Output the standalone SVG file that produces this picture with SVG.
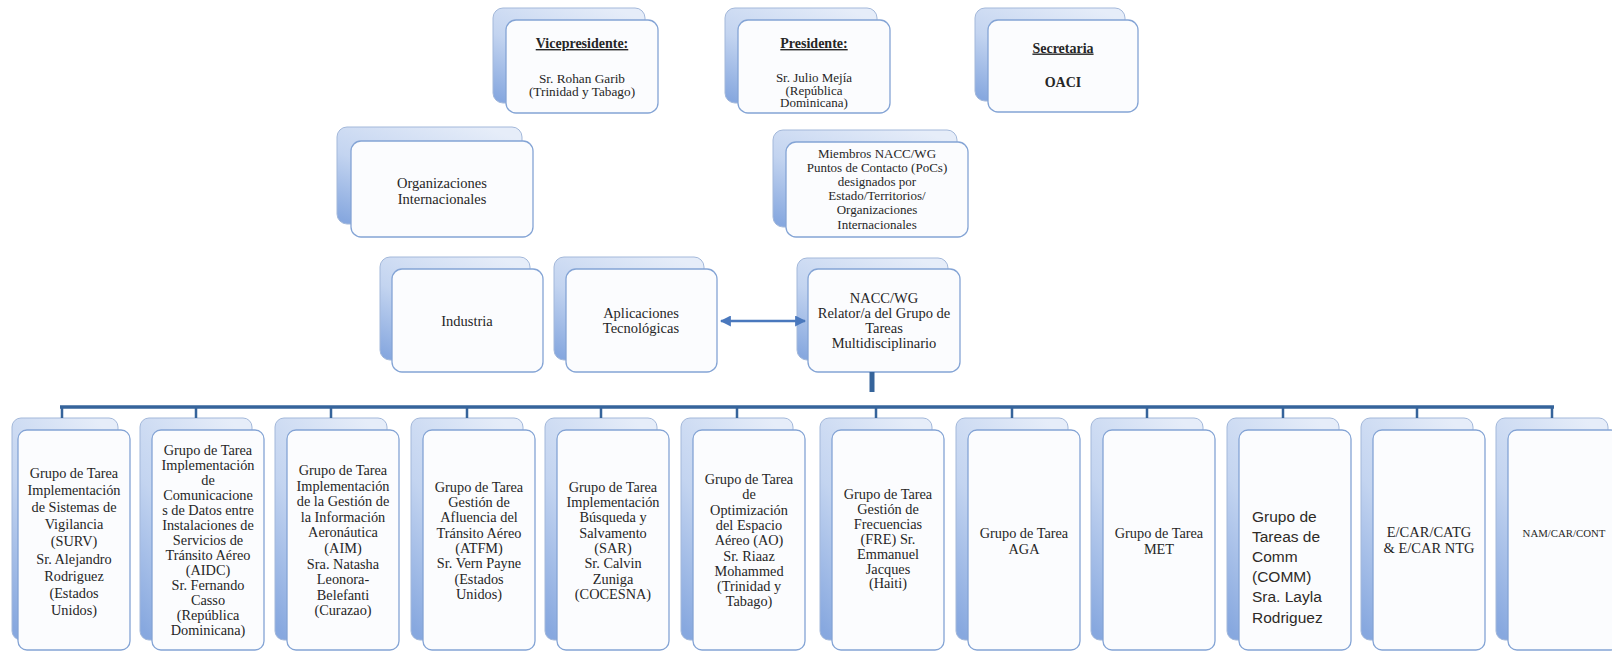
<svg xmlns="http://www.w3.org/2000/svg" width="1612" height="651" viewBox="0 0 1612 651">
<defs>
<linearGradient id="gb" x1="0.8" y1="0" x2="0.1" y2="1">
<stop offset="0" stop-color="#e6edf9"/>
<stop offset="0.55" stop-color="#c3d4f0"/>
<stop offset="1" stop-color="#87a8df"/>
</linearGradient>
<marker id="ah" viewBox="0 0 10 10" refX="9" refY="5" markerWidth="4.4" markerHeight="4.4" orient="auto-start-reverse" markerUnits="strokeWidth">
<path d="M0,0 L10,5 L0,10 z" fill="#4a78bd"/>
</marker>
<style>
.back{fill:url(#gb);stroke:#a3b8da;stroke-width:1}
.front{fill:#fbfcfe;stroke:#84a4d5;stroke-width:1.3}
.t{font-family:"Liberation Serif","Times New Roman",serif;fill:#262626;text-anchor:middle}
.s{font-size:14.3px}
.h{font-weight:bold;text-decoration:underline}
.bus{stroke:#36649b;stroke-width:3.5;fill:none}
.drop{stroke:#36649b;stroke-width:2.5;fill:none}
</style>
</defs>
<rect width="1612" height="651" fill="#ffffff"/>

<g id="vicepresidente">
<rect class="back" x="493" y="8" width="152" height="95" rx="10"/>
<rect class="front" x="506" y="20" width="152" height="93" rx="10"/>
<text class="t h" x="582" y="48" font-size="14">Vicepresidente:</text>
<text class="t" font-size="13.3"><tspan x="582" y="82.5">Sr. Rohan Garib</tspan><tspan x="582" dy="13.3">(Trinidad y Tabago)</tspan></text>
</g>

<g id="presidente">
<rect class="back" x="725" y="8" width="152" height="95" rx="10"/>
<rect class="front" x="738" y="20" width="152" height="93" rx="10"/>
<text class="t h" x="814" y="48" font-size="14">Presidente:</text>
<text class="t" font-size="13"><tspan x="814" y="82">Sr. Julio Mejía</tspan><tspan x="814" dy="12.6">(República</tspan><tspan x="814" dy="12.6">Dominicana)</tspan></text>
</g>

<g id="secretaria">
<rect class="back" x="975" y="8" width="150" height="93" rx="10"/>
<rect class="front" x="988" y="20" width="150" height="92" rx="10"/>
<text class="t h" x="1063" y="52.5" font-size="14">Secretaria</text>
<text class="t" x="1063" y="87" font-size="14" font-weight="bold">OACI</text>
</g>

<g id="organizaciones">
<rect class="back" x="337" y="127" width="185" height="97" rx="10"/>
<rect class="front" x="351" y="141" width="182" height="96" rx="10"/>
<text class="t" font-size="14.5"><tspan x="442" y="188">Organizaciones</tspan><tspan x="442" dy="16">Internacionales</tspan></text>
</g>

<g id="miembros">
<rect class="back" x="773" y="130" width="184" height="97" rx="10"/>
<rect class="front" x="786" y="142" width="182" height="95" rx="10"/>
<text class="t" font-size="13"><tspan x="877" y="158">Miembros NACC/WG</tspan><tspan x="877" dy="14.1">Puntos de Contacto (PoCs)</tspan><tspan x="877" dy="14.1">designados por</tspan><tspan x="877" dy="14.1">Estado/Territorios/</tspan><tspan x="877" dy="14.1">Organizaciones</tspan><tspan x="877" dy="14.1">Internacionales</tspan></text>
</g>

<g id="industria">
<rect class="back" x="380" y="257" width="150" height="103" rx="10"/>
<rect class="front" x="392" y="269" width="151" height="103" rx="10"/>
<text class="t" x="467" y="326" font-size="14.5">Industria</text>
</g>

<g id="aplicaciones">
<rect class="back" x="554" y="257" width="150" height="103" rx="10"/>
<rect class="front" x="566" y="269" width="151" height="103" rx="10"/>
<text class="t" font-size="14.5"><tspan x="641" y="318">Aplicaciones</tspan><tspan x="641" dy="15">Tecnológicas</tspan></text>
</g>

<g id="nacc-wg">
<rect class="back" x="797" y="258" width="151" height="102" rx="10"/>
<rect class="front" x="808" y="269" width="152" height="103" rx="10"/>
<text class="t" font-size="14.5"><tspan x="884" y="303">NACC/WG</tspan><tspan x="884" dy="15">Relator/a del Grupo de</tspan><tspan x="884" dy="15">Tareas</tspan><tspan x="884" dy="15">Multidisciplinario</tspan></text>
</g>

<g id="surv">
<rect class="back" x="12" y="418" width="106" height="222" rx="9"/>
<rect class="front" x="18" y="430" width="112" height="220" rx="9"/>
<text class="t s"><tspan x="74" y="478">Grupo de Tarea</tspan><tspan x="74" dy="17.1">Implementación</tspan><tspan x="74" dy="17.1">de Sistemas de</tspan><tspan x="74" dy="17.1">Vigilancia</tspan><tspan x="74" dy="17.1">(SURV)</tspan><tspan x="74" dy="17.1">Sr. Alejandro</tspan><tspan x="74" dy="17.1">Rodriguez</tspan><tspan x="74" dy="17.1">(Estados</tspan><tspan x="74" dy="17.1">Unidos)</tspan></text>
</g>

<g id="aidc">
<rect class="back" x="140" y="418" width="112" height="222" rx="9"/>
<rect class="front" x="152" y="430" width="112" height="220" rx="9"/>
<text class="t s"><tspan x="208" y="455">Grupo de Tarea</tspan><tspan x="208" dy="15">Implementación</tspan><tspan x="208" dy="15">de</tspan><tspan x="208" dy="15">Comunicacione</tspan><tspan x="208" dy="15">s de Datos entre</tspan><tspan x="208" dy="15">Instalaciones de</tspan><tspan x="208" dy="15">Servicios de</tspan><tspan x="208" dy="15">Tránsito Aéreo</tspan><tspan x="208" dy="15">(AIDC)</tspan><tspan x="208" dy="15">Sr. Fernando</tspan><tspan x="208" dy="15">Casso</tspan><tspan x="208" dy="15">(República</tspan><tspan x="208" dy="15">Dominicana)</tspan></text>
</g>

<g id="aim">
<rect class="back" x="275" y="418" width="112" height="222" rx="9"/>
<rect class="front" x="287" y="430" width="112" height="220" rx="9"/>
<text class="t s"><tspan x="343" y="475">Grupo de Tarea</tspan><tspan x="343" dy="15.6">Implementación</tspan><tspan x="343" dy="15.6">de la Gestión de</tspan><tspan x="343" dy="15.6">la Información</tspan><tspan x="343" dy="15.6">Aeronáutica</tspan><tspan x="343" dy="15.6">(AIM)</tspan><tspan x="343" dy="15.6">Sra. Natasha</tspan><tspan x="343" dy="15.6">Leonora-</tspan><tspan x="343" dy="15.6">Belefanti</tspan><tspan x="343" dy="15.6">(Curazao)</tspan></text>
</g>

<g id="atfm">
<rect class="back" x="411" y="418" width="112" height="222" rx="9"/>
<rect class="front" x="423" y="430" width="112" height="220" rx="9"/>
<text class="t s"><tspan x="479" y="491.7">Grupo de Tarea</tspan><tspan x="479" dy="15.3">Gestión de</tspan><tspan x="479" dy="15.3">Afluencia del</tspan><tspan x="479" dy="15.3">Tránsito Aéreo</tspan><tspan x="479" dy="15.3">(ATFM)</tspan><tspan x="479" dy="15.3">Sr. Vern Payne</tspan><tspan x="479" dy="15.3">(Estados</tspan><tspan x="479" dy="15.3">Unidos)</tspan></text>
</g>

<g id="sar">
<rect class="back" x="545" y="418" width="112" height="222" rx="9"/>
<rect class="front" x="557" y="430" width="112" height="220" rx="9"/>
<text class="t s"><tspan x="613" y="491.7">Grupo de Tarea</tspan><tspan x="613" dy="15.3">Implementación</tspan><tspan x="613" dy="15.3">Búsqueda y</tspan><tspan x="613" dy="15.3">Salvamento</tspan><tspan x="613" dy="15.3">(SAR)</tspan><tspan x="613" dy="15.3">Sr. Calvin</tspan><tspan x="613" dy="15.3">Zuniga</tspan><tspan x="613" dy="15.3">(COCESNA)</tspan></text>
</g>

<g id="ao">
<rect class="back" x="681" y="418" width="112" height="222" rx="9"/>
<rect class="front" x="693" y="430" width="112" height="220" rx="9"/>
<text class="t s"><tspan x="749" y="484">Grupo de Tarea</tspan><tspan x="749" dy="15.3">de</tspan><tspan x="749" dy="15.3">Optimización</tspan><tspan x="749" dy="15.3">del Espacio</tspan><tspan x="749" dy="15.3">Aéreo (AO)</tspan><tspan x="749" dy="15.3">Sr. Riaaz</tspan><tspan x="749" dy="15.3">Mohammed</tspan><tspan x="749" dy="15.3">(Trinidad y</tspan><tspan x="749" dy="15.3">Tabago)</tspan></text>
</g>

<g id="fre">
<rect class="back" x="820" y="418" width="112" height="222" rx="9"/>
<rect class="front" x="832" y="430" width="112" height="220" rx="9"/>
<text class="t s"><tspan x="888" y="499">Grupo de Tarea</tspan><tspan x="888" dy="14.9">Gestión de</tspan><tspan x="888" dy="14.9">Frecuencias</tspan><tspan x="888" dy="14.9">(FRE) Sr.</tspan><tspan x="888" dy="14.9">Emmanuel</tspan><tspan x="888" dy="14.9">Jacques</tspan><tspan x="888" dy="14.9">(Haiti)</tspan></text>
</g>

<g id="aga">
<rect class="back" x="956" y="418" width="112" height="222" rx="9"/>
<rect class="front" x="968" y="430" width="112" height="220" rx="9"/>
<text class="t s"><tspan x="1024" y="538">Grupo de Tarea</tspan><tspan x="1024" dy="16">AGA</tspan></text>
</g>

<g id="met">
<rect class="back" x="1091" y="418" width="112" height="222" rx="9"/>
<rect class="front" x="1103" y="430" width="112" height="220" rx="9"/>
<text class="t s"><tspan x="1159" y="538">Grupo de Tarea</tspan><tspan x="1159" dy="16">MET</tspan></text>
</g>

<g id="comm">
<rect class="back" x="1227" y="418" width="112" height="222" rx="9"/>
<rect class="front" x="1239" y="430" width="112" height="220" rx="9"/>
<text font-family="'Liberation Sans', Arial, sans-serif" font-size="15.5" fill="#2e2a26"><tspan x="1252" y="521.5">Grupo de</tspan><tspan x="1252" dy="20.2">Tareas de</tspan><tspan x="1252" dy="20.2">Comm</tspan><tspan x="1252" dy="20.2">(COMM)</tspan><tspan x="1252" dy="20.2">Sra. Layla</tspan><tspan x="1252" dy="20.2">Rodriguez</tspan></text>
</g>

<g id="ecar">
<rect class="back" x="1361" y="418" width="112" height="222" rx="9"/>
<rect class="front" x="1373" y="430" width="112" height="220" rx="9"/>
<text class="t" font-size="14.5"><tspan x="1429" y="537">E/CAR/CATG</tspan><tspan x="1429" dy="16">&amp; E/CAR NTG</tspan></text>
</g>

<g id="namcar">
<rect class="back" x="1496" y="418" width="112" height="222" rx="9"/>
<rect class="front" x="1508" y="430" width="112" height="220" rx="9"/>
<text class="t" x="1564" y="537" font-size="10.8">NAM/CAR/CONT</text>
</g>

<g id="connectors">
<path class="bus" d="M60,407 H1554"/>
<path class="drop" d="M62,407 V418 M196,407 V418 M331,407 V418 M467,407 V418 M601,407 V418 M737,407 V418 M876,407 V418 M1012,407 V418 M1147,407 V418 M1283,407 V418 M1417,407 V418 M1552,407 V418"/>
<rect x="869.5" y="372" width="5" height="20" fill="#36649b"/>
<line x1="721" y1="321" x2="805" y2="321" stroke="#4a78bd" stroke-width="2.5" marker-start="url(#ah)" marker-end="url(#ah)"/>
</g>
</svg>
